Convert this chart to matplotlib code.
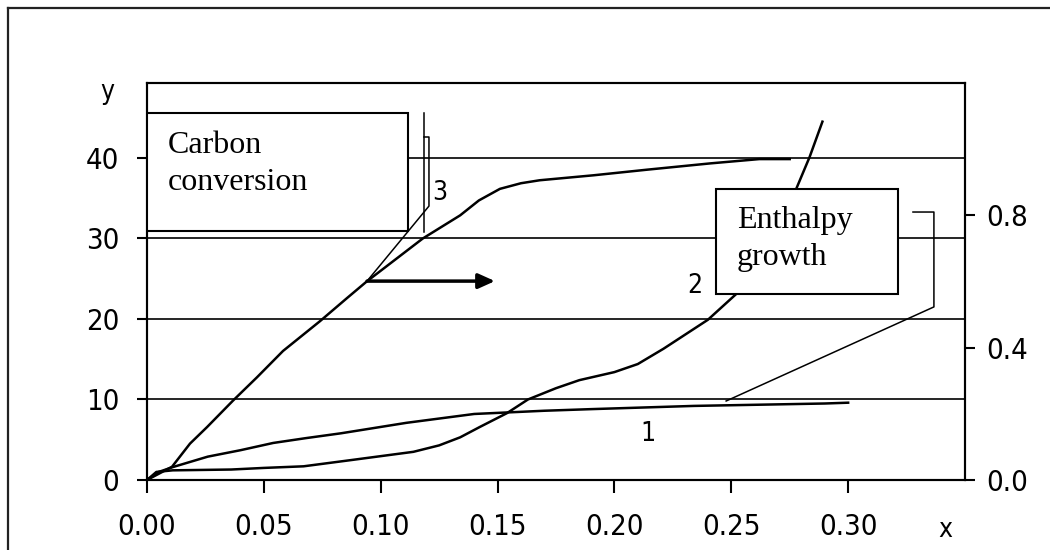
import numpy as np
import matplotlib
matplotlib.use("Agg")
import matplotlib.pyplot as plt
from matplotlib import font_manager
from matplotlib.lines import Line2D
from matplotlib.patches import Rectangle

# curve 1 (left axis)
x1 = [0, 0.005, 0.011, 0.026, 0.040, 0.054, 0.068, 0.083, 0.111, 0.140, 0.170, 0.190, 0.234, 0.290, 0.300]
y1 = [0, 1.0, 1.6, 2.9, 3.7, 4.6, 5.2, 5.8, 7.1, 8.2, 8.6, 8.8, 9.2, 9.5, 9.6]

# curve 2 (left axis)
x2 = [0, 0.004, 0.011, 0.036, 0.050, 0.067, 0.088, 0.114, 0.125, 0.134, 0.1425, 0.154, 0.163,
      0.175, 0.185, 0.200, 0.210, 0.221, 0.240, 0.2525, 0.265, 0.272, 0.278, 0.2835, 0.289]
y2 = [0, 1.0, 1.2, 1.3, 1.5, 1.7, 2.5, 3.5, 4.3, 5.3, 6.6, 8.3, 10.0,
      11.4, 12.4, 13.4, 14.4, 16.3, 19.9, 23.2, 28.5, 32.3, 36.3, 40.1, 44.5]

# curve 3, carbon conversion (right axis)
x3 = [0, 0.0107, 0.0184, 0.0257, 0.0368, 0.047, 0.0582, 0.074, 0.0856, 0.094, 0.118, 0.134,
      0.142, 0.151, 0.160, 0.168, 0.191, 0.214, 0.241, 0.262, 0.275]
y3 = [0, 0.04, 0.11, 0.16, 0.24, 0.31, 0.39, 0.48, 0.55, 0.60, 0.73, 0.80,
      0.845, 0.88, 0.897, 0.906, 0.921, 0.938, 0.957, 0.97, 0.97]

xticks = [0, 0.05, 0.10, 0.15, 0.20, 0.25, 0.30]
yticks_left = [0, 10, 20, 30, 40]
yticks_right = [0, 0.4, 0.8]

names = set(f.name for f in font_manager.fontManager.ttflist)
if "Liberation Sans Narrow" in names:
    tfont, tsize, nsize = "Liberation Sans Narrow", 24, 21
else:
    tfont, tsize, nsize = "DejaVu Sans", 21, 19
sfont = "Liberation Serif" if "Liberation Serif" in names else "DejaVu Serif"
tk = dict(family=tfont, fontsize=tsize, fontstretch="condensed")

fig = plt.figure(figsize=(10.5, 5.5), dpi=100)
ax = fig.add_axes([147 / 1050, 70 / 550, 818 / 1050, 397 / 550])
ax2 = ax.twinx()

ax.set_xlim(0, 0.35)
ax.set_ylim(0, 49.3)
ax2.set_ylim(0, 1.2)

for a in (ax, ax2):
    for s in a.spines.values():
        s.set_linewidth(1.5)
        s.set_color("black")

ax.yaxis.grid(True, color="black", linewidth=1.2)
ax.set_axisbelow(True)

ax.plot(x1, y1, color="black", lw=1.8, zorder=3)
ax.plot(x2, y2, color="black", lw=1.8, zorder=3)
ax2.plot(x3, y3, color="black", lw=1.8, zorder=3)

ax.set_xticks(xticks)
ax.set_xticklabels([f"{v:.2f}" for v in xticks], **tk)
ax.set_yticks(yticks_left)
ax.set_yticklabels([str(v) for v in yticks_left], **tk)
ax2.set_yticks(yticks_right)
ax2.set_yticklabels([f"{v:.1f}" for v in yticks_right], **tk)

ax.tick_params(axis="x", direction="out", length=9.5, width=1.5, pad=14)
ax.tick_params(axis="y", direction="out", length=7, width=1.5, pad=13)
ax2.tick_params(axis="y", direction="out", length=7, width=1.5, pad=8)

T = ax2.transAxes
nk = dict(transform=T, family=tfont, fontsize=nsize, fontstretch="condensed",
          ha="center", va="center")
ax2.text(-0.048, 0.977, "y", **nk)
ax2.text(0.9756, -0.126, "x", clip_on=False, **nk)
ax2.text(0.358, 0.723, "3", **nk)
ax2.text(0.670, 0.489, "2", **nk)
ax2.text(0.6125, 0.116, "1", **nk)

# callout boxes
ax2.add_patch(Rectangle((0, 0.627), 0.319, 0.297, transform=T, facecolor="white",
                        edgecolor="black", lw=1.5, zorder=5))
ax2.text(0.0257, 0.8237, "Carbon", transform=T, family=sfont, fontsize=23, va="baseline", zorder=6)
ax2.text(0.0257, 0.730, "conversion", transform=T, family=sfont, fontsize=23, va="baseline", zorder=6)

ax2.add_patch(Rectangle((0.6956, 0.4685), 0.2224, 0.2645, transform=T, facecolor="white",
                        edgecolor="black", lw=1.5, zorder=5))
ax2.text(0.7213, 0.635, "Enthalpy", transform=T, family=sfont, fontsize=23, va="baseline", zorder=6)
ax2.text(0.7213, 0.5416, "growth", transform=T, family=sfont, fontsize=23, va="baseline", zorder=6)

# leader lines
ax2.plot([0.3386, 0.3386], [0.924, 0.625], transform=T, color="black", lw=1.1, zorder=4)
ax2.plot([0.3386, 0.3447, 0.3447, 0.269], [0.864, 0.864, 0.690, 0.501], transform=T,
         color="black", lw=1.1, zorder=4)
ax2.plot([0.9364, 0.962, 0.962, 0.708], [0.675, 0.675, 0.436, 0.199], transform=T,
         color="black", lw=1.1, zorder=4)
ax2.annotate("", xy=(0.4254, 0.501), xytext=(0.269, 0.501), xycoords=T, textcoords=T,
             arrowprops=dict(arrowstyle="-|>,head_length=1.0,head_width=0.45", color="black",
                             lw=2.5, shrinkA=0, shrinkB=0), zorder=4)

# outer frame (cut off at right and bottom)
fig.add_artist(Line2D([8 / 1050, 1.0], [1 - 8 / 550, 1 - 8 / 550], transform=fig.transFigure,
                      color="#222222", lw=1.6))
fig.add_artist(Line2D([8 / 1050, 8 / 1050], [1 - 8 / 550, 0.0], transform=fig.transFigure,
                      color="#222222", lw=1.6))

fig.savefig("out.png", dpi=100)
